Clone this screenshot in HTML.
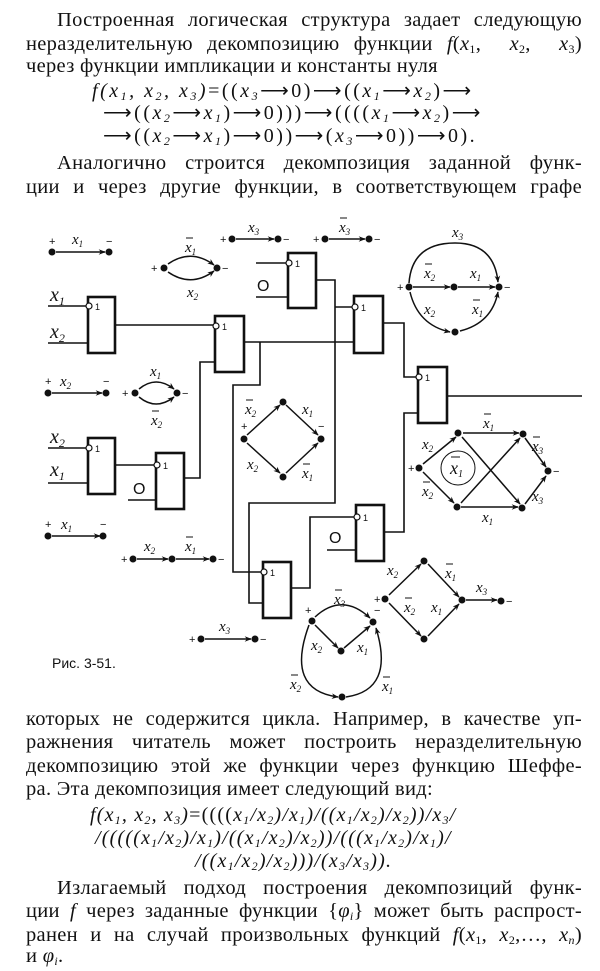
<!DOCTYPE html>
<html><head><meta charset="utf-8">
<style>
html,body{margin:0;padding:0;background:#fff;}
body{width:600px;height:971px;position:relative;overflow:hidden;font-family:"Liberation Serif",serif;color:#111;}
.l{position:absolute;left:26px;width:556px;font-size:20.5px;letter-spacing:0.3px;line-height:24px;height:24px;white-space:nowrap;text-align:justify;text-align-last:justify;}
.n{text-align:left;text-align-last:left;}
.f{position:absolute;font-size:20px;line-height:24px;height:24px;white-space:nowrap;font-style:italic;text-align:left;}
.t{letter-spacing:2.5px;}
.b{letter-spacing:1.2px;}
i{font-style:italic;}
sub{font-size:12px;vertical-align:-3px;line-height:0;}
.up{font-style:normal;}
svg{position:absolute;left:0;top:0;}
</style></head><body>
<div class="l" style="top:8px;left:57px;width:525px">Построенная логическая структура задает следующую</div>
<div class="l" style="top:32px">неразделительную декомпозицию функции <i>f</i>(<i>x</i><sub>1</sub>,&nbsp; <i>x</i><sub>2</sub>,&nbsp; <i>x</i><sub>3</sub>)</div>
<div class="l n" style="top:54px">через функции импликации и константы нуля</div>
<div class="f t" style="top:79px;left:92px"><i>f</i>(<i>x</i><sub>1</sub>,&nbsp;<i>x</i><sub>2</sub>,&nbsp;<i>x</i><sub>3</sub>)<span class="up">=((</span><i>x</i><sub>3</sub><span class="up">⟶0)⟶((</span><i>x</i><sub>1</sub><span class="up">⟶</span><i>x</i><sub>2</sub><span class="up">)⟶</span></div>
<div class="f t" style="top:101px;left:103px"><span class="up">⟶((</span><i>x</i><sub>2</sub><span class="up">⟶</span><i>x</i><sub>1</sub><span class="up">)⟶0)))⟶((((</span><i>x</i><sub>1</sub><span class="up">⟶</span><i>x</i><sub>2</sub><span class="up">)⟶</span></div>
<div class="f t" style="top:124px;left:103px"><span class="up">⟶((</span><i>x</i><sub>2</sub><span class="up">⟶</span><i>x</i><sub>1</sub><span class="up">)⟶0))⟶(</span><i>x</i><sub>3</sub><span class="up">⟶0))⟶0).</span></div>
<div class="l" style="top:151px;left:57px;width:525px">Аналогично строится декомпозиция заданной функ-</div>
<div class="l" style="top:175px">ции и через другие функции, в соответствующем графе</div>

<div class="l" style="top:707px">которых не содержится цикла. Например, в качестве уп-</div>
<div class="l" style="top:730px">ражнения читатель может построить неразделительную</div>
<div class="l" style="top:754px">декомпозицию этой же функции через функцию Шеффе-</div>
<div class="l n" style="top:777px">ра. Эта декомпозиция имеет следующий вид:</div>
<div class="f b" style="top:803px;left:90px"><i>f</i>(<i>x</i><sub>1</sub>,&nbsp;<i>x</i><sub>2</sub>,&nbsp;<i>x</i><sub>3</sub>)<span class="up">=((((</span><i>x</i><sub>1</sub>/<i>x</i><sub>2</sub>)/<i>x</i><sub>1</sub>)/((<i>x</i><sub>1</sub>/<i>x</i><sub>2</sub>)/<i>x</i><sub>2</sub>))/<i>x</i><sub>3</sub>/</div>
<div class="f b" style="top:826px;left:95px">/(((((<i>x</i><sub>1</sub>/<i>x</i><sub>2</sub>)/<i>x</i><sub>1</sub>)/((<i>x</i><sub>1</sub>/<i>x</i><sub>2</sub>)/<i>x</i><sub>2</sub>))/(((<i>x</i><sub>1</sub>/<i>x</i><sub>2</sub>)/<i>x</i><sub>1</sub>)/</div>
<div class="f b" style="top:849px;left:195px">/((<i>x</i><sub>1</sub>/<i>x</i><sub>2</sub>)/<i>x</i><sub>2</sub>)))/(<i>x</i><sub>3</sub>/<i>x</i><sub>3</sub>)).</div>
<div class="l" style="top:876px;left:57px;width:525px">Излагаемый подход построения декомпозиций функ-</div>
<div class="l" style="top:899px">ции <i>f</i> через заданные функции {<i>φ<sub>i</sub></i>} может быть распрост-</div>
<div class="l" style="top:923px">ранен и на случай произвольных функций <i>f</i>(<i>x</i><sub>1</sub>,&nbsp;<i>x</i><sub>2</sub>,…,&nbsp;<i>x<sub>n</sub></i>)</div>
<div class="l n" style="top:944px">и <i>φ<sub>i</sub></i>.</div>

<svg width="600" height="971" viewBox="0 0 600 971" font-family="Liberation Serif, serif" font-style="italic">
<defs>
<marker id="a" viewBox="0 0 10 10" refX="9" refY="5" markerWidth="7" markerHeight="7" orient="auto" markerUnits="userSpaceOnUse"><path d="M0,1 L10,5 L0,9 L3,5z" fill="#111"/></marker>
</defs>
<g stroke="#111" stroke-width="1.6" fill="none">
<path d="M48,306H88 M48,343H88"/>
<path d="M115,325H215"/>
<path d="M48,448H88 M48,483H88"/>
<path d="M115,465H156"/>
<path d="M184,478H200V362H215"/>
<path d="M244,342H354"/>
<path d="M260,342V385H233V572H263"/>
<path d="M256,263H288 M256,297H288"/>
<path d="M316,280H335V503H249V603H263"/>
<path d="M335,307H354"/>
<path d="M383,323H404V377H418"/>
<path d="M384,532H404V413H418"/>
<path d="M447,396H582"/>
<path d="M128,500H156"/>
<path d="M327,550H356"/>
<path d="M291,588H310V517H356"/>
</g>
<g stroke="#111" stroke-width="2.6" fill="#fff">
<rect x="88" y="297" width="27" height="56"/>
<rect x="215" y="316" width="29" height="56"/>
<rect x="288" y="253" width="28" height="55"/>
<rect x="354" y="296" width="29" height="57"/>
<rect x="418" y="367" width="29" height="56"/>
<rect x="88" y="438" width="27" height="56"/>
<rect x="156" y="453" width="28" height="56"/>
<rect x="356" y="505" width="28" height="56"/>
<rect x="263" y="562" width="28" height="56"/>
</g>
<g stroke="#111" stroke-width="1.2" fill="#fff">
<circle cx="89" cy="306" r="3"/><circle cx="216" cy="326" r="3"/><circle cx="289" cy="263" r="3"/>
<circle cx="355" cy="307" r="3"/><circle cx="419" cy="377" r="3"/><circle cx="89" cy="448" r="3"/>
<circle cx="157" cy="465" r="3"/><circle cx="357" cy="517" r="3"/><circle cx="264" cy="572" r="3"/>
</g>
<g font-style="normal" font-family="Liberation Sans, sans-serif" font-size="9" fill="#111">
<text x="95" y="310">1</text><text x="222" y="330">1</text><text x="295" y="267">1</text><text x="361" y="311">1</text>
<text x="425" y="381">1</text><text x="95" y="452">1</text><text x="163" y="469">1</text><text x="363" y="521">1</text><text x="270" y="576">1</text>
</g>
<g font-style="normal" font-family="Liberation Sans, sans-serif" font-size="16" fill="#111">
<text x="257" y="291">O</text><text x="133" y="494">O</text><text x="329" y="543">O</text>
</g>
<g font-size="20" fill="#111">
<text x="50" y="301">x<tspan font-size="12" dy="4">1</tspan></text>
<text x="50" y="338">x<tspan font-size="12" dy="4">2</tspan></text>
<text x="50" y="443">x<tspan font-size="12" dy="4">2</tspan></text>
<text x="50" y="476">x<tspan font-size="12" dy="4">1</tspan></text>
</g>
<g stroke="#111" stroke-width="1.5" fill="none" marker-end="url(#a)">
<path d="M56,252H105"/>
<path d="M168,264Q191,248 214,265"/><path d="M168,272Q191,288 214,271"/>
<path d="M236,239H274"/><path d="M329,239H365"/>
<path d="M413,287H450"/><path d="M458,287H495"/>
<path d="M409,283Q412,243 455,243Q494,243 498,282"/>
<path d="M410,292Q418,325 450,332"/><path d="M460,331Q492,323 498,292"/>
<path d="M52,393H102"/>
<path d="M139,389Q156,375 174,389"/><path d="M139,397Q156,411 174,397"/>
<path d="M247,435L280,405"/><path d="M286,405L318,435"/><path d="M247,443L280,473"/><path d="M286,473L318,443"/>
<path d="M52,536H100"/>
<path d="M137,559H168"/><path d="M176,559H209"/>
<path d="M205,639H251"/>
<path d="M423,464L456,437"/><path d="M423,472L454,503"/>
<path d="M463,433H519"/><path d="M461,507H518"/>
<path d="M462,437L520,504"/><path d="M461,503L520,438"/>
<path d="M525,438L546,467"/><path d="M525,504L546,476"/>
<path d="M389,595L421,564"/><path d="M389,603L421,636"/><path d="M428,564L459,597"/><path d="M428,636L459,604"/>
<path d="M466,600H497"/>
<path d="M315,617Q342,592 370,618"/>
<path d="M315,625L338,648"/><path d="M344,648L370,626"/>
<path d="M309,625Q285,690 338,697"/>
<path d="M346,697Q395,690 376,628"/>
</g>
<g fill="#111">
<circle cx="52" cy="252" r="3.5"/><circle cx="109" cy="252" r="3.5"/>
<circle cx="164" cy="268" r="3.5"/><circle cx="217" cy="268" r="3.5"/>
<circle cx="232" cy="239" r="3.5"/><circle cx="278" cy="239" r="3.5"/>
<circle cx="325" cy="239" r="3.5"/><circle cx="369" cy="239" r="3.5"/>
<circle cx="409" cy="287" r="3.5"/><circle cx="454" cy="287" r="3.5"/><circle cx="499" cy="287" r="3.5"/><circle cx="455" cy="332" r="3.5"/>
<circle cx="48" cy="393" r="3.5"/><circle cx="106" cy="393" r="3.5"/>
<circle cx="135" cy="393" r="3.5"/><circle cx="177" cy="393" r="3.5"/>
<circle cx="244" cy="439" r="3.5"/><circle cx="283" cy="402" r="3.5"/><circle cx="321" cy="439" r="3.5"/><circle cx="283" cy="477" r="3.5"/>
<circle cx="48" cy="536" r="3.5"/><circle cx="103" cy="536" r="3.5"/>
<circle cx="133" cy="559" r="3.5"/><circle cx="172" cy="559" r="3.5"/><circle cx="213" cy="559" r="3.5"/>
<circle cx="201" cy="639" r="3.5"/><circle cx="255" cy="639" r="3.5"/>
<circle cx="419" cy="468" r="3.5"/><circle cx="458" cy="433" r="3.5"/><circle cx="457" cy="507" r="3.5"/><circle cx="523" cy="434" r="3.5"/><circle cx="522" cy="508" r="3.5"/><circle cx="548" cy="471" r="3.5"/>
<circle cx="385" cy="599" r="3.5"/><circle cx="424" cy="561" r="3.5"/><circle cx="424" cy="639" r="3.5"/><circle cx="462" cy="600" r="3.5"/><circle cx="501" cy="601" r="3.5"/>
<circle cx="312" cy="621" r="3.5"/><circle cx="373" cy="622" r="3.5"/><circle cx="341" cy="651" r="3.5"/><circle cx="342" cy="697" r="3.5"/>
</g>
<circle cx="458" cy="468" r="17" stroke="#111" stroke-width="1" fill="none"/>
<g font-style="normal" font-family="Liberation Sans, sans-serif" font-size="11" fill="#111">
<text x="49" y="245">+</text><text x="106" y="245">−</text>
<text x="151" y="272">+</text><text x="222" y="272">−</text>
<text x="220" y="243">+</text><text x="283" y="243">−</text>
<text x="313" y="243">+</text><text x="374" y="243">−</text>
<text x="397" y="291">+</text><text x="504" y="291">−</text>
<text x="45" y="385">+</text><text x="103" y="385">−</text>
<text x="122" y="397">+</text><text x="182" y="397">−</text>
<text x="241" y="430">+</text><text x="318" y="430">−</text>
<text x="45" y="528">+</text><text x="100" y="528">−</text>
<text x="121" y="563">+</text><text x="218" y="563">−</text>
<text x="189" y="643">+</text><text x="260" y="643">−</text>
<text x="408" y="472">+</text><text x="553" y="475">−</text>
<text x="374" y="603">+</text><text x="506" y="605">−</text>
<text x="305" y="614">+</text><text x="374" y="614">−</text>
</g>
<g font-size="15" fill="#111">
<g><text x="72" y="244">x<tspan font-size="9" dy="3">1</tspan></text></g>
<g><text x="185" y="252">x<tspan font-size="9" dy="3">1</tspan></text><line x1="186" y1="238" x2="193" y2="238" stroke="#111"/></g>
<text x="187" y="297">x<tspan font-size="9" dy="3">2</tspan></text>
<text x="248" y="232">x<tspan font-size="9" dy="3">3</tspan></text>
<g><text x="339" y="232">x<tspan font-size="9" dy="3">3</tspan></text><line x1="340" y1="218" x2="347" y2="218" stroke="#111"/></g>
<text x="452" y="237">x<tspan font-size="9" dy="3">3</tspan></text>
<g><text x="424" y="278">x<tspan font-size="9" dy="3">2</tspan></text><line x1="425" y1="264" x2="432" y2="264" stroke="#111"/></g>
<text x="470" y="278">x<tspan font-size="9" dy="3">1</tspan></text>
<text x="424" y="314">x<tspan font-size="9" dy="3">2</tspan></text>
<g><text x="472" y="314">x<tspan font-size="9" dy="3">1</tspan></text><line x1="473" y1="300" x2="480" y2="300" stroke="#111"/></g>
<text x="60" y="386">x<tspan font-size="9" dy="3">2</tspan></text>
<text x="150" y="376">x<tspan font-size="9" dy="3">1</tspan></text>
<g><text x="151" y="425">x<tspan font-size="9" dy="3">2</tspan></text><line x1="152" y1="411" x2="159" y2="411" stroke="#111"/></g>
<g><text x="245" y="414">x<tspan font-size="9" dy="3">2</tspan></text><line x1="246" y1="400" x2="253" y2="400" stroke="#111"/></g>
<text x="302" y="414">x<tspan font-size="9" dy="3">1</tspan></text>
<text x="247" y="469">x<tspan font-size="9" dy="3">2</tspan></text>
<g><text x="302" y="478">x<tspan font-size="9" dy="3">1</tspan></text><line x1="303" y1="464" x2="310" y2="464" stroke="#111"/></g>
<text x="61" y="529">x<tspan font-size="9" dy="3">1</tspan></text>
<text x="144" y="551">x<tspan font-size="9" dy="3">2</tspan></text>
<g><text x="185" y="551">x<tspan font-size="9" dy="3">1</tspan></text><line x1="186" y1="537" x2="193" y2="537" stroke="#111"/></g>
<text x="219" y="631">x<tspan font-size="9" dy="3">3</tspan></text>
<g><text x="483" y="428">x<tspan font-size="9" dy="3">1</tspan></text><line x1="484" y1="414" x2="491" y2="414" stroke="#111"/></g>
<text x="422" y="449">x<tspan font-size="9" dy="3">2</tspan></text>
<g><text x="422" y="496">x<tspan font-size="9" dy="3">2</tspan></text><line x1="423" y1="482" x2="430" y2="482" stroke="#111"/></g>
<text x="482" y="522">x<tspan font-size="9" dy="3">1</tspan></text>
<g><text x="532" y="451">x<tspan font-size="9" dy="3">3</tspan></text><line x1="533" y1="437" x2="540" y2="437" stroke="#111"/></g>
<text x="532" y="501">x<tspan font-size="9" dy="3">3</tspan></text>
<g><text x="450" y="474" font-size="18">x<tspan font-size="10" dy="3">1</tspan></text><line x1="451" y1="457" x2="460" y2="457" stroke="#111"/></g>
<text x="387" y="575">x<tspan font-size="9" dy="3">2</tspan></text>
<g><text x="445" y="578">x<tspan font-size="9" dy="3">1</tspan></text><line x1="446" y1="564" x2="453" y2="564" stroke="#111"/></g>
<g><text x="404" y="612">x<tspan font-size="9" dy="3">2</tspan></text><line x1="405" y1="598" x2="412" y2="598" stroke="#111"/></g>
<text x="431" y="612">x<tspan font-size="9" dy="3">1</tspan></text>
<text x="476" y="592">x<tspan font-size="9" dy="3">3</tspan></text>
<g><text x="334" y="604">x<tspan font-size="9" dy="3">3</tspan></text><line x1="335" y1="590" x2="342" y2="590" stroke="#111"/></g>
<text x="311" y="650">x<tspan font-size="9" dy="3">2</tspan></text>
<text x="357" y="652">x<tspan font-size="9" dy="3">1</tspan></text>
<g><text x="290" y="689">x<tspan font-size="9" dy="3">2</tspan></text><line x1="291" y1="675" x2="298" y2="675" stroke="#111"/></g>
<g><text x="382" y="691">x<tspan font-size="9" dy="3">1</tspan></text><line x1="383" y1="677" x2="390" y2="677" stroke="#111"/></g>
</g>
<text x="52" y="668" font-style="normal" font-family="Liberation Sans, sans-serif" font-size="14" fill="#111">Рис. 3-51.</text>
</svg>
</body></html>
